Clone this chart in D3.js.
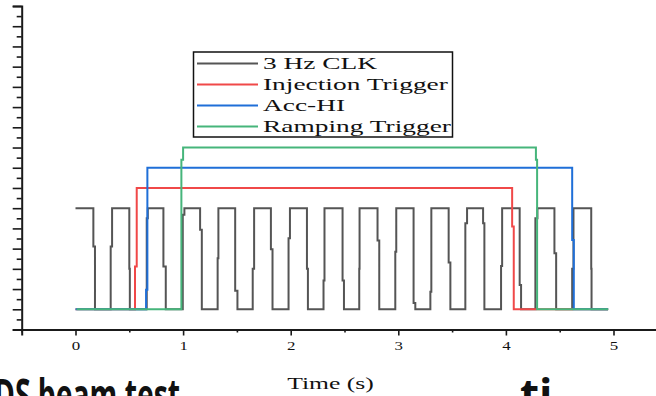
<!DOCTYPE html>
<html>
<head>
<meta charset="utf-8">
<script src="https://cdn.jsdelivr.net/npm/d3@7"></script>
<style>
  html, body { margin: 0; padding: 0; background: #fff; overflow: hidden; }
  svg { display: block; }
</style>
</head>
<body>
<svg id="chart" width="656" height="396"></svg>
<script>
// ---------------- data ----------------
const seriesNames = ["3 Hz CLK", "Injection Trigger", "Acc-HI", "Ramping Trigger"];
const seriesColors = ["#555555", "#f04848", "#1f6fd8", "#46b57b"];
const lowLevel = 1;
const highLevels = [6, 7, 8, 9];
const startTimes = [0, 0, 0, 0.01];
const endTimes = [4.95, 4.95, 4.95, 4.951];
const startHigh = [true, false, false, false];

// edges: [time at top/start, time after jog, jog level]
const clkEdges = [
  [0.166, 0.181, 4.10], [0.327, 0.340, 4.10], [0.500, 0.505, 3.00], [0.662, 0.672, 5.50],
  [0.817, 0.839, 3.11], [0.997, 1.012, 5.67], [1.158, 1.174, 4.93], [1.321, 1.328, 3.52],
  [1.484, 1.505, 1.92], [1.647, 1.660, 3.00], [1.816, 1.831, 3.97], [1.980, 1.993, 4.51],
  [2.151, 2.160, 3.00], [2.305, 2.314, 2.42], [2.482, 2.495, 2.42], [2.637, 2.640, 3.00],
  [2.807, 2.823, 4.40], [2.972, 2.981, 3.85], [3.142, 3.158, 1.31], [3.298, 3.307, 1.87],
  [3.468, 3.484, 3.31], [3.623, 3.639, 5.26], [3.788, 3.800, 5.26], [3.955, 3.965, 3.14],
  [4.128, 4.141, 2.20], [4.274, 4.293, 5.50], [4.451, 4.467, 3.77], [4.616, 4.628, 3.00],
  [4.793, 4.796, 3.00]
];
const injEdges = [[0.553, 0.569, 3.11], [4.058, 4.073, 5.09]];
const accEdges = [[0.656, 0.668, 1.96], [4.616, 4.631, 4.43]];
const rampEdges = [[0.984, 1.000, 8.39], [4.279, 4.290, 8.39]];
const allEdges = [clkEdges, injEdges, accEdges, rampEdges];

const xTicks = [0, 1, 2, 3, 4, 5];
const xMinorTicks = [-0.5, 0.5, 1.5, 2.5, 3.5, 4.5, 5.5];
const yTicks = d3.range(0, 16.01, 1);
const yMinorTicks = d3.range(0.5, 16, 1);
const xTitle = "Time (s)";
const footerLeft = "DS beam test";
const footerRight = "ti";

// ---------------- drawing ----------------
const svg = d3.select("#chart");
const x = d3.scaleLinear().domain([-0.5, 5.5]).range([21.7, 667.3]);
const y = d3.scaleLinear().domain([0, 16]).range([329.5, 6]);
const serif = "'Liberation Serif', 'Times New Roman', serif";

function buildPoints(i) {
  const pts = [];
  let hi = startHigh[i];
  const H = highLevels[i], L = lowLevel;
  pts.push([startTimes[i], hi ? H : L]);
  allEdges[i].forEach(([t1, t2, j]) => {
    const cur = hi ? H : L, nxt = hi ? L : H;
    pts.push([t1, cur], [t1, j], [t2, j], [t2, nxt]);
    hi = !hi;
  });
  pts.push([endTimes[i], hi ? H : L]);
  return pts;
}
const line = d3.line().x(d => x(d[0])).y(d => y(d[1]));
seriesNames.forEach((name, i) => {
  svg.append("path")
    .attr("d", line(buildPoints(i)))
    .attr("fill", "none")
    .attr("stroke", seriesColors[i])
    .attr("stroke-width", 2)
    .attr("stroke-linejoin", "miter");
});

// y axis (no labels, ticks outward)
const yAxisG = svg.append("g").attr("transform", `translate(${x(-0.5)},0)`);
yAxisG.call(d3.axisLeft(y).tickValues(yTicks).tickSize(9).tickFormat(""));
yAxisG.append("g").call(d3.axisLeft(y).tickValues(yMinorTicks).tickSize(5).tickFormat(""))
  .select(".domain").remove();
yAxisG.selectAll(".domain").attr("stroke", "#1a1a1a").attr("stroke-width", 2);
yAxisG.selectAll(".tick line").attr("stroke", "#1a1a1a").attr("stroke-width", 1.6);

// x axis
const xAxisG = svg.append("g").attr("transform", `translate(0,${y(0)})`);
xAxisG.call(d3.axisBottom(x).tickValues(xTicks).tickSize(6).tickPadding(5).tickFormat(d3.format("d")));
xAxisG.append("g").call(d3.axisBottom(x).tickValues(xMinorTicks).tickSize(3).tickFormat(""))
  .select(".domain").remove();
xAxisG.selectAll(".domain").attr("stroke", "#1a1a1a").attr("stroke-width", 2);
xAxisG.selectAll(".tick line").attr("stroke", "#1a1a1a").attr("stroke-width", 1.6);
xAxisG.selectAll(".tick text")
  .attr("font-family", serif).attr("font-size", 13).attr("fill", "#111")
  .attr("transform", "scale(1.3,1)");

// x axis title
svg.append("text")
  .attr("transform", `translate(${x(2.37)},389) scale(1.6,1)`)
  .attr("text-anchor", "middle")
  .attr("font-family", serif).attr("font-size", 16).attr("fill", "#111")
  .text(xTitle);

// legend
const lg = svg.append("g");
lg.append("rect").attr("x", 193.5).attr("y", 52).attr("width", 259).attr("height", 85)
  .attr("fill", "#fff").attr("stroke", "#111").attr("stroke-width", 1.5);
seriesNames.forEach((name, i) => {
  const cy = 63.4 + i * 21;
  lg.append("line").attr("x1", 197).attr("x2", 258).attr("y1", cy).attr("y2", cy)
    .attr("stroke", seriesColors[i]).attr("stroke-width", 2);
  lg.append("text")
    .attr("transform", `translate(263,${cy + 5.5}) scale(1.66,1)`)
    .attr("font-family", serif).attr("font-size", 16.5).attr("fill", "#111")
    .text(name);
});

// clipped heading below the figure (only the tops of its letters are visible)
svg.append("text")
  .attr("x", -6).attr("y", 411)
  .attr("font-family", "'Open Sans', sans-serif").attr("font-weight", "bold")
  .attr("font-size", 44).attr("fill", "#111")
  .attr("textLength", 186).attr("lengthAdjust", "spacingAndGlyphs")
  .text(footerLeft);
svg.append("text")
  .attr("x", 520).attr("y", 411)
  .attr("font-family", "'Open Sans', sans-serif").attr("font-weight", "bold")
  .attr("font-size", 44).attr("fill", "#111")
  .text(footerRight);
</script>
</body>
</html>
